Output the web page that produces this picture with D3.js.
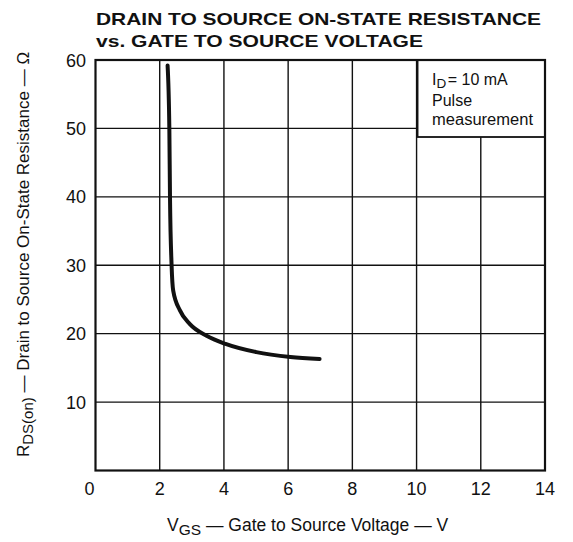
<!DOCTYPE html>
<html><head><meta charset="utf-8">
<script src="https://cdn.jsdelivr.net/npm/d3@7"></script>
<style>body{margin:0;background:#fff}svg{display:block}text{font-family:"Liberation Sans",Arial,sans-serif;fill:#111}</style>
</head><body>
<script>
const vgs = [2.245, 2.30, 2.32, 2.37, 2.42, 2.63, 2.94, 3.46, 4.05, 5.01, 6.07, 6.98];
const rds = [59.2, 50, 40, 30, 26.3, 23.4, 21.4, 19.7, 18.5, 17.3, 16.6, 16.3];
const xTicks = [0, 2, 4, 6, 8, 10, 12, 14];
const yTicks = [10, 20, 30, 40, 50, 60];
const titleLines = ["DRAIN TO SOURCE ON-STATE RESISTANCE", "vs. GATE TO SOURCE VOLTAGE"];

const W = 573, H = 542;
const svg = d3.select("body").append("svg").attr("width", W).attr("height", H);
const x = d3.scaleLinear().domain([0, 14]).range([95.5, 545]);
const y = d3.scaleLinear().domain([0, 60]).range([470.5, 60]);

// grid
const g = svg.append("g");
g.selectAll("line.v").data(xTicks.slice(1, -1)).join("line")
  .attr("x1", d => x(d)).attr("x2", d => x(d)).attr("y1", y(0)).attr("y2", y(60))
  .attr("stroke", "#111").attr("stroke-width", 1.4);
g.selectAll("line.h").data(yTicks.slice(0, -1)).join("line")
  .attr("y1", d => y(d)).attr("y2", d => y(d)).attr("x1", x(0)).attr("x2", x(14))
  .attr("stroke", "#111").attr("stroke-width", 1.4);

// legend box
const boxTop = y(60), boxBottom = 137;
svg.append("rect").attr("x", x(10) + 1).attr("y", boxTop).attr("width", x(14) - x(10) - 1).attr("height", boxBottom - boxTop)
  .attr("fill", "#fff").attr("stroke", "#111").attr("stroke-width", 1.8);
const lg = svg.append("g").attr("font-size", 16);
const t1 = lg.append("text").attr("x", 432).attr("y", 85);
t1.append("tspan").text("I");
t1.append("tspan").text("D").attr("font-size", 13.5).attr("dy", 2.5);
t1.append("tspan").text("= 10 mA").attr("dy", -2.5).attr("dx", 1.5);
lg.append("text").attr("x", 432).attr("y", 106).text("Pulse");
lg.append("text").attr("x", 432).attr("y", 125).attr("textLength", 101).attr("lengthAdjust", "spacingAndGlyphs").text("measurement");

// frame
svg.append("rect").attr("x", x(0)).attr("y", y(60)).attr("width", x(14) - x(0)).attr("height", y(0) - y(60))
  .attr("fill", "none").attr("stroke", "#111").attr("stroke-width", 2.2);

// curve
const pts = vgs.map((v, i) => [v, rds[i]]);
svg.append("path").attr("d", d3.line().x(d => x(d[0])).y(d => y(d[1])).curve(d3.curveMonotoneX)(pts))
  .attr("fill", "none").attr("stroke", "#111").attr("stroke-width", 4).attr("stroke-linecap", "round");

// tick labels
svg.append("g").attr("font-size", 18).selectAll("text").data(xTicks).join("text")
  .attr("x", d => d === 0 ? x(d) - 6 : x(d)).attr("y", 495).attr("text-anchor", "middle").text(d => d);
svg.append("g").attr("font-size", 18).selectAll("text").data(yTicks).join("text")
  .attr("x", 86).attr("y", d => y(d) + 6.5).attr("text-anchor", "end").text(d => d);

// title
svg.append("text").attr("x", 96).attr("y", 25).attr("font-size", 17).attr("font-weight", "bold")
  .attr("textLength", 445).attr("lengthAdjust", "spacingAndGlyphs").text(titleLines[0]);
svg.append("text").attr("x", 96).attr("y", 47).attr("font-size", 17).attr("font-weight", "bold")
  .attr("textLength", 327).attr("lengthAdjust", "spacingAndGlyphs").text(titleLines[1]);

// x axis title
const xt = svg.append("text").attr("x", 167).attr("y", 531).attr("font-size", 17.5);
xt.append("tspan").text("V");
xt.append("tspan").text("GS").attr("font-size", 15.5).attr("dy", 4);
xt.append("tspan").text(" \u2014 Gate to Source Voltage \u2014 V").attr("dy", -4);

// y axis title
const yt = svg.append("text").attr("transform", "translate(29,457) rotate(-90)").attr("font-size", 17);
yt.append("tspan").text("R");
yt.append("tspan").text("DS(on)").attr("font-size", 15).attr("dy", 4);
yt.append("tspan").text(" \u2014 Drain to Source On-State Resistance \u2014 \u03A9").attr("dy", -4);
</script>
</body></html>
